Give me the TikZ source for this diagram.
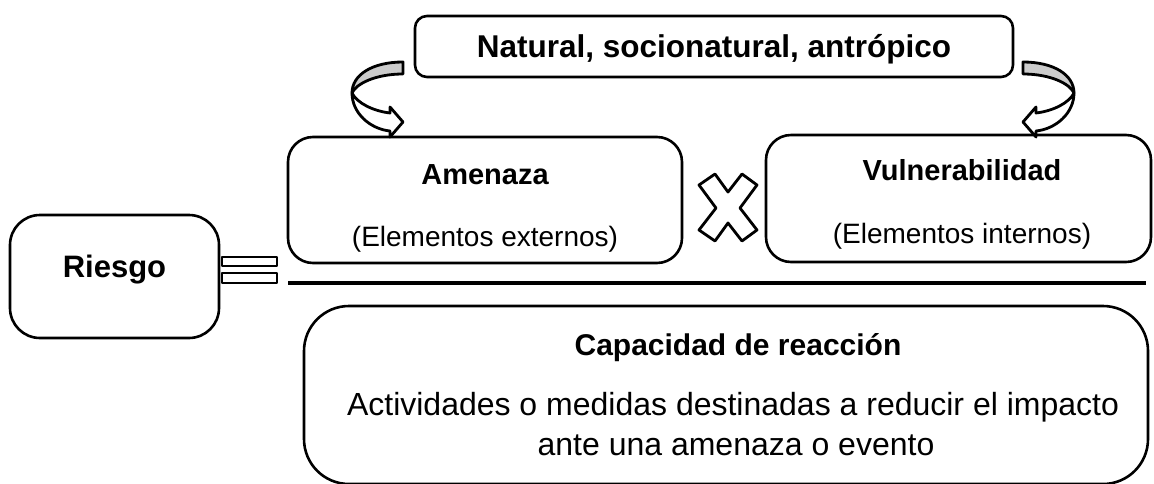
\documentclass[tikz,border=0pt]{standalone}
\usepackage{fontspec}
\setmainfont{Liberation Sans}
\usetikzlibrary{positioning}

% twisted curved arrow, drawn once and mirrored
\newcommand{\twistarrow}{%
  \draw[twist=black!20] (403,62) .. controls (372,62) and (352,75) .. (352,93)
    .. controls (356,84) and (375,74) .. (403,74) -- cycle;
  \draw[twist=white] (352,93) .. controls (352,113) and (370,129) .. (390,131)
    -- (390,137) -- (403,122) -- (390,107) -- (390,113)
    .. controls (373,111) and (357,103) .. (352,93) -- cycle;}

\begin{document}
\begin{tikzpicture}[x=1pt, y=-1pt, line join=round,
  box/.style={draw=black, line width=2.6pt, fill=white, rounded corners=#1, inner sep=0pt},
  box/.default=25pt,
  title/.style={anchor=base, font=\bfseries\fontsize{29}{35}\selectfont},
  plain/.style={anchor=base, font=\fontsize{28}{34}\selectfont},
  twist/.style={draw=black, line width=2.8pt, fill=#1}]
  \useasboundingbox (0,0) rectangle (1154,483);

  \node[box=12pt, minimum width=598pt, minimum height=61pt] (origen) at (714,46.5) {};
  \node[title, font=\bfseries\fontsize{31.5}{37}\selectfont] (origentxt) at (714,57) {Natural, socionatural, antrópico};

  \node[box, minimum width=394pt, minimum height=126pt] (amenaza) at (485,200) {};
  \node[title] (amenazatxt) at (485,184) {Amenaza};
  \node[plain] (externos) at (485,246) {(Elementos externos)};

  \node[box, minimum width=385pt, minimum height=127pt] (vulnera) at (958.5,198.5) {};
  \node[title] (vulneratxt) at (962,180) {Vulnerabilidad};
  \node[plain] (internos) at (962,243) {(Elementos internos)};

  \node[box=30pt, minimum width=209pt, minimum height=123pt] (riesgo) at (114.5,276.5) {};
  \node[title, font=\bfseries\fontsize{31}{37}\selectfont] (riesgotxt) at (114.5,277) {Riesgo};

  \node[box=45pt, minimum width=844pt, minimum height=178pt] (capacidad) at (726,395) {};
  \node[title, font=\bfseries\fontsize{30}{36}\selectfont] (capacidadtxt) at (738,355) {Capacidad de reacción};
  \node[plain, font=\fontsize{32}{38}\selectfont] (medidas1) at (733,415) {Actividades o medidas destinadas a reducir el impacto};
  \node[plain, font=\fontsize{32}{38}\selectfont] (medidas2) at (736,455) {ante una amenaza o evento};

  % equals sign and divider
  \draw[line width=2pt, fill=white] (222,257) rectangle (277,266);
  \draw[line width=2pt, fill=white] (222,273) rectangle (277,283);
  \draw[line width=3.5pt] (288,283) -- (1146,283);

  % times sign
  \draw[line width=2.8pt, fill=white] (699,185) -- (715,174) -- (728,192) -- (742,174)
    -- (757,185) -- (740,208) -- (757,230) -- (742,241) -- (728,223) -- (715,241)
    -- (699,230) -- (716,208) -- cycle;

  % curved arrows
  \twistarrow
  \begin{scope}[xshift=1426pt, xscale=-1]
    \twistarrow
  \end{scope}
\end{tikzpicture}
\end{document}
